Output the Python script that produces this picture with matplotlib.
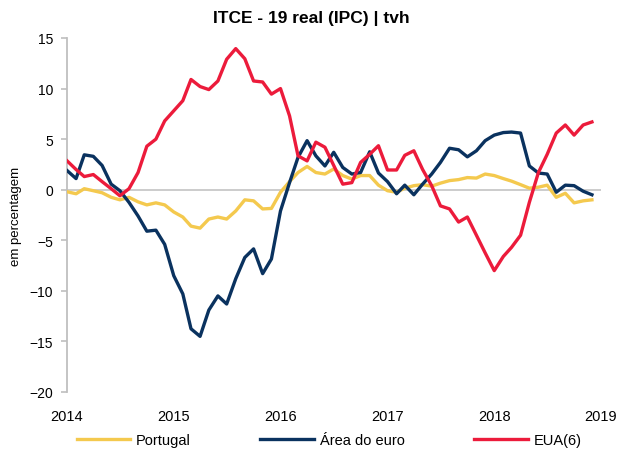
import pandas as pd
import matplotlib.pyplot as plt
import matplotlib.dates as mdates

# Meses: jan-2014 a dez-2018
meses = pd.date_range("2014-01-01", periods=60, freq="MS")

portugal = [-0.2, -0.4, 0.1, -0.1, -0.3, -0.75, -1.0, -0.75, -1.2, -1.5,
            -1.3, -1.5, -2.2, -2.7, -3.6, -3.8, -2.9, -2.7, -2.9, -2.1,
            -1.0, -1.1, -1.9, -1.85, -0.25, 0.8, 1.7, 2.3, 1.7, 1.55,
            2.05, 1.4, 1.05, 1.4, 1.4, 0.45, -0.1, -0.25, 0.15, 0.4,
            0.5, 0.35, 0.65, 0.9, 1.0, 1.2, 1.15, 1.55, 1.4, 1.1,
            0.85, 0.5, 0.15, 0.25, 0.45, -0.75, -0.35, -1.3, -1.1, -1.0]

area_euro = [1.9, 1.1, 3.45, 3.3, 2.4, 0.55, -0.1, -1.25, -2.6, -4.1,
             -4.0, -5.4, -8.5, -10.3, -13.75, -14.5, -11.9, -10.5, -11.3, -8.8,
             -6.7, -5.85, -8.3, -6.85, -2.1, 0.7, 3.2, 4.85, 3.35, 2.35,
             3.7, 2.2, 1.55, 1.7, 3.75, 1.65, 0.8, -0.4, 0.45, -0.5,
             0.55, 1.55, 2.7, 4.1, 3.95, 3.25, 3.85, 4.85, 5.4, 5.65,
             5.7, 5.6, 2.35, 1.65, 1.55, -0.25, 0.45, 0.4, -0.15, -0.5]

eua = [2.86, 2.0, 1.3, 1.5, 0.8, 0.1, -0.6, 0.1, 1.7, 4.3,
       5.0, 6.8, 7.8, 8.8, 10.9, 10.2, 9.9, 10.75, 12.9, 13.95,
       12.95, 10.75, 10.65, 9.45, 10.0, 7.3, 3.35, 2.85, 4.7, 4.2,
       2.4, 0.55, 0.7, 2.7, 3.5, 4.35, 1.95, 1.95, 3.4, 3.85,
       2.0, 0.4, -1.6, -1.9, -3.2, -2.7, -4.5, -6.25, -8.0, -6.6,
       -5.7, -4.5, -1.25, 1.7, 3.5, 5.6, 6.4, 5.4, 6.4, 6.7]

series = [
    ("Portugal", portugal, "#F4C94E"),
    ("Área do euro", area_euro, "#0A325F"),
    ("EUA(6)", eua, "#EC1B3B"),
]

plt.rcParams["font.family"] = ["Liberation Sans Narrow", "Liberation Sans", "DejaVu Sans"]

fig = plt.figure(figsize=(6.19, 4.56), dpi=100)
ax = fig.add_axes([67 / 619, 1 - 393 / 456, 534 / 619, 354 / 456])

ax.axhline(0, color="#C8C8C8", lw=1.3, zorder=1)
for nome, valores, cor in series:
    ax.plot(meses, valores, color=cor, lw=2.4, label=nome, zorder=3)

ax.set_xlim(pd.Timestamp("2014-01-01"), pd.Timestamp("2019-01-01"))
ax.set_ylim(-20, 15)
ax.set_yticks(range(-20, 16, 5))
ax.xaxis.set_major_locator(mdates.YearLocator())
ax.xaxis.set_major_formatter(mdates.DateFormatter("%Y"))

for lado in ["top", "right", "bottom"]:
    ax.spines[lado].set_visible(False)
ax.spines["left"].set_color("#BFBFBF")
ax.spines["left"].set_linewidth(1.3)
ax.tick_params(axis="y", length=4, color="#BFBFBF", width=1.2, labelsize=10, pad=6)
ax.tick_params(axis="x", length=0, labelsize=10.5, pad=12)

ax.set_ylabel("em percentagem", fontsize=9.5, labelpad=5)
fig.text(0.503, 1 - 18 / 456, "ITCE - 19 real (IPC) | tvh", ha="center", va="center",
         fontsize=12.5, fontweight="bold")

fig.legend(loc="center", bbox_to_anchor=(329 / 619, 1 - 441 / 456), ncol=3,
           frameon=False, fontsize=10.5, handlelength=3.7, handletextpad=0.35,
           columnspacing=4.8)

fig.savefig("out.png", dpi=100)
